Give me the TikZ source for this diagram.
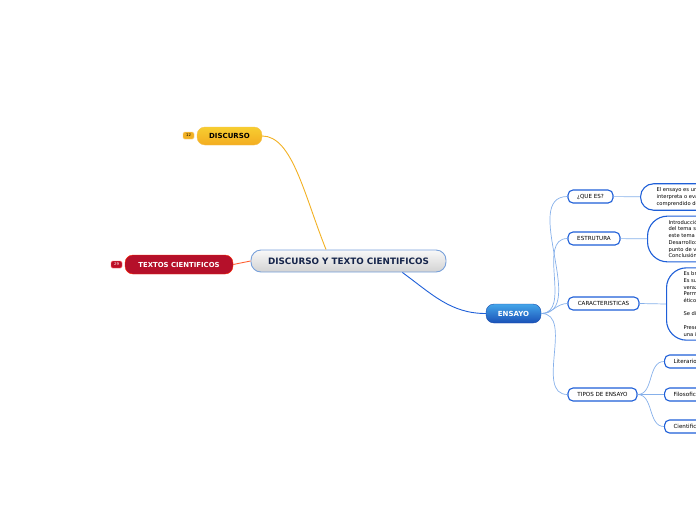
\documentclass[tikz,border=0pt]{standalone}
\usepackage{fontspec}
\setmainfont{DejaVu Sans}
\usetikzlibrary{positioning,calc}

\definecolor{navy}{HTML}{15244A}
\definecolor{linkblue}{HTML}{1E5FD8}
\definecolor{branchblue}{HTML}{86B0EA}
\definecolor{discor}{HTML}{F2B124}
\definecolor{redtex}{HTML}{B5102A}

\begin{document}
\begin{tikzpicture}[x=1pt,y=-1pt,
  blk/.style={rounded corners=8pt, inner sep=0pt, align=center, font=\fontsize{7}{8}\selectfont\bfseries},
  root/.style={blk, draw=cyan!50!blue!55, line width=0.9pt, top color=white!95!gray, bottom color=gray!35,
               rounded corners=10pt, minimum width=195pt, minimum height=22pt, text=navy,
               font=\fontsize{8.8}{10}\selectfont\bfseries},
  main/.style={blk, minimum height=18pt},
  badge/.style={rounded corners=1.5pt, inner sep=0pt, minimum width=11pt, minimum height=7pt,
                font=\fontsize{3.8}{4}\selectfont},
  sub/.style={draw=linkblue, line width=1.1pt, fill=white, rounded corners=5pt, inner sep=0pt,
              minimum height=13pt, font=\fontsize{5.6}{6}\selectfont},
  leaf/.style={sub, anchor=west, inner xsep=9pt},
  note/.style={draw=linkblue, line width=1.1pt, fill=white, anchor=west, align=left, inner ysep=4pt,
               font=\fontsize{5.2}{6.7}\selectfont},
  br/.style={branchblue, line width=0.7pt}
]
\useasboundingbox (0,0) rectangle (696,520);
\clip (0,0) rectangle (696,520);

\node[root] (cen) at (348.5,261) {DISCURSO Y TEXTO CIENTIFICOS};
\node[main, minimum width=65pt, draw=discor!80!white, top color=discor!70!yellow!90, bottom color=discor!90!orange] (disc) at (229.5,136) {DISCURSO};
\node[badge, fill=discor, draw=discor!60!white] (b12) at (188.5,135.5) {12};
\node[main, minimum width=108pt, minimum height=19pt, fill=redtex, draw=red!70!orange, text=white,
      font=\fontsize{6.9}{8}\selectfont\bfseries] (tex) at (179,264.5) {TEXTOS CIENTIFICOS};
\node[badge, fill=redtex!90!red, draw=red!60!white, text=white] (b29) at (116.5,264.5) {29};
\node[main, minimum width=55pt, minimum height=19pt, draw=linkblue!80!black, top color=linkblue!70!cyan!80, bottom color=linkblue!85!black, text=white] (ens) at (513.5,313.5) {ENSAYO};

\node[sub, minimum width=45pt] (que) at (590.5,196.5) {¿QUE ES?};
\node[sub, minimum width=52pt] (estr) at (594,238.5) {ESTRUTURA};
\node[sub, minimum width=71pt] (car) at (603.5,303.5) {CARACTERISTICAS};
\node[sub, minimum width=69pt] (tip) at (602.5,394.5) {TIPOS DE ENSAYO};

\node[note, rounded corners=13pt, inner xsep=16pt] (def) at (640,197) {El ensayo es un texto en prosa\\interpreta o evalúa un tema\\comprendido desde su punto de vista};
\node[note, rounded corners=20pt, inner xsep=21pt] (partes) at (647,239) {Introducción: presentación\\del tema seleccionado y\\este tema\\Desarrollo: exposición del\\punto de vista del autor\\Conclusión: cierre};
\node[note, rounded corners=20pt, inner xsep=17pt] (rasgos) at (666,304) {Es breve\\Es subjetivo\\veraz\\Permite\\ético\\[6.7pt]Se dirige\\[6.7pt]Presenta\\una idea};

\node[leaf] (lit) at (664,361.5) {Literario};
\node[leaf] (fil) at (664,394.5) {Filosofico};
\node[leaf] (cie) at (664,426.5) {Cientifico};

\draw[discor, line width=0.9pt] (disc.east) .. controls +(30,0) and +(-22,-55) .. (cen.153);
\draw[red!55!orange!80, line width=0.9pt] (tex.east) -- (cen.west);
\draw[linkblue, line width=0.9pt] (cen.-12) .. controls +(30,22) and +(-35,0) .. (ens.west);

\draw[br] (ens.east) to[out=0,in=180] (que.west);
\draw[br] (ens.east) to[out=0,in=180] (estr.west);
\draw[br] (ens.east) to[out=0,in=180] (car.west);
\draw[br] (ens.east) to[out=0,in=180] (tip.west);

\draw[br] (que) -- (def);
\draw[br] (estr) -- (partes);
\draw[br] (car.east) -- (rasgos.west);
\draw[br] (tip.east) to[out=0,in=180] (lit.west);
\draw[br] (tip.east) -- (fil.west);
\draw[br] (tip.east) to[out=0,in=180] (cie.west);
\end{tikzpicture}
\end{document}
